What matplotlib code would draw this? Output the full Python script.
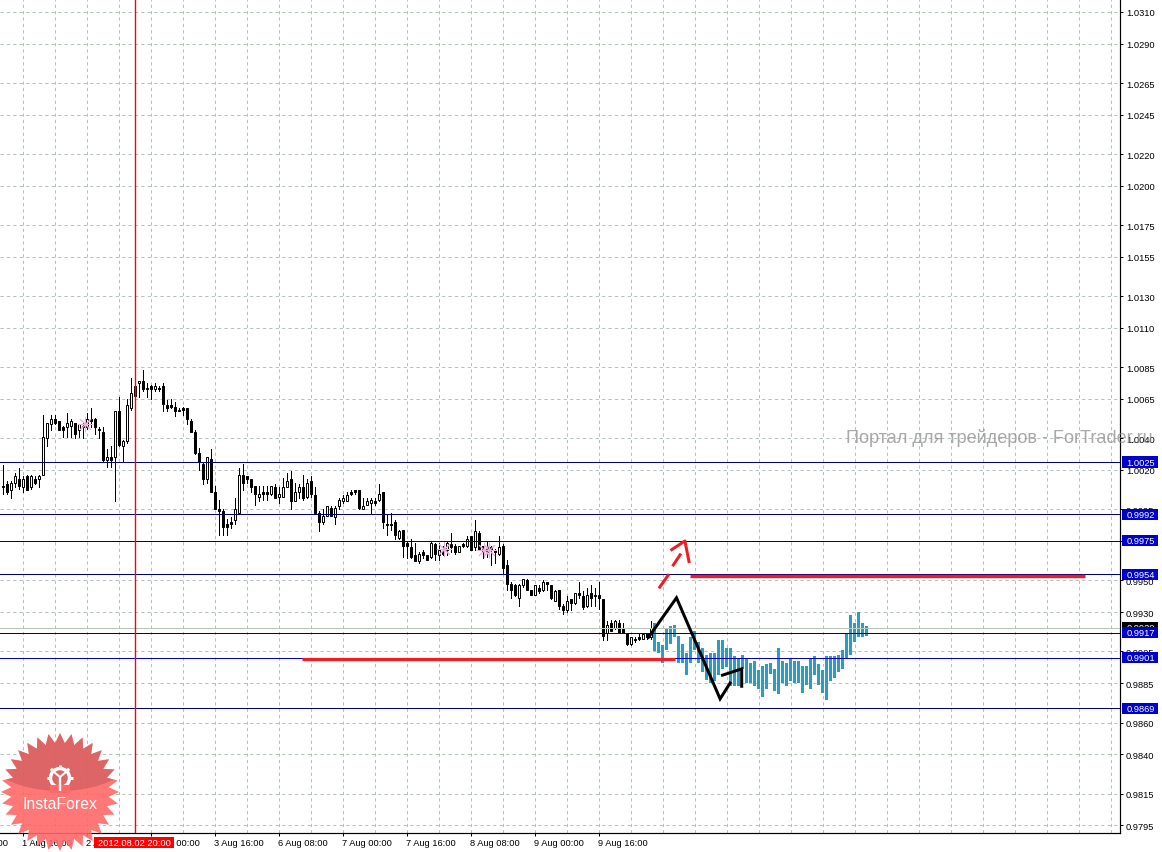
import numpy as np
import matplotlib
matplotlib.use('Agg')
import matplotlib.pyplot as plt
from matplotlib.patches import Polygon, Rectangle, Ellipse, Circle

# all prices in pips (1.0025 -> 10025), hourly bars
opens = [10010, 10011, 10007, 10012, 10014, 10009, 10016, 10009, 10014, 10014,
         10017, 10040, 10049, 10052, 10051, 10047, 10047, 10048, 10050, 10045,
         10048, 10047, 10052, 10052, 10046, 10044, 10026, 10028, 10028, 10057,
         10035, 10038, 10059, 10067, 10075, 10076, 10072, 10073, 10071, 10072,
         10073, 10061, 10061, 10060, 10058, 10059, 10059, 10051, 10044, 10031,
         10024, 10014, 10027, 10006, 9995, 9994, 9986, 9987, 9988, 9993,
         10017, 10016, 10014, 10010, 10003, 10006, 10006, 10005, 10009, 10003,
         10003, 10009, 10014, 10000, 10006, 10009, 10003, 10013, 10004, 9993,
         9987, 9991, 9996, 9990, 9997, 10000, 10000, 10006, 10007, 10007,
         9995, 9998, 9999, 10000, 10001, 10006, 9986, 9986, 9987, 9977,
         9982, 9974, 9971, 9966, 9962, 9968, 9966, 9965, 9973, 9966,
         9968, 9969, 9973, 9972, 9968, 9973, 9972, 9978, 9971, 9980,
         9972, 9971, 9971, 9969, 9967, 9972, 9960, 9948, 9947, 9939,
         9947, 9950, 9944, 9941, 9945, 9944, 9949, 9947, 9937, 9944,
         9934, 9931, 9938, 9936, 9942, 9940, 9934, 9942, 9941, 9941,
         9938, 9917, 9923, 9920, 9923, 9919, 9917, 9910, 9913, 9914,
         9913, 9917, 9914]
closes = [10009, 10006, 10012, 10016, 10010, 10014, 10007, 10016, 10012, 10016,
          10041, 10050, 10052, 10050, 10045, 10045, 10050, 10051, 10043, 10049,
          10047, 10052, 10051, 10047, 10045, 10026, 10028, 10026, 10057, 10036,
          10038, 10061, 10069, 10073, 10076, 10071, 10071, 10071, 10073, 10071,
          10062, 10059, 10060, 10057, 10057, 10058, 10052, 10044, 10031, 10025,
          10014, 10028, 10006, 9995, 9994, 9984, 9984, 9986, 9995, 10017,
          10012, 10014, 10009, 10005, 10005, 10005, 10005, 10010, 10002, 10005,
          10009, 10013, 10000, 10006, 10009, 10002, 10012, 10005, 9993, 9987,
          9991, 9997, 9991, 9996, 10001, 10002, 10004, 10005, 10006, 9996,
          9997, 10000, 10001, 9999, 10005, 9987, 9985, 9985, 9979, 9981,
          9972, 9972, 9965, 9962, 9967, 9966, 9963, 9974, 9967, 9969,
          9967, 9974, 9971, 9968, 9972, 9972, 9976, 9969, 9981, 9970,
          9968, 9968, 9969, 9968, 9971, 9958, 9948, 9944, 9941, 9947,
          9951, 9944, 9941, 9947, 9943, 9949, 9948, 9939, 9943, 9934,
          9931, 9937, 9936, 9942, 9941, 9933, 9941, 9939, 9940, 9939,
          9915, 9922, 9918, 9924, 9917, 9917, 9910, 9914, 9912, 9913,
          9916, 9914, 9920]
highs = [10023, 10013, 10013, 10018, 10021, 10016, 10017, 10017, 10016, 10017,
         10055, 10050, 10055, 10055, 10051, 10048, 10056, 10052, 10050, 10049,
         10050, 10056, 10059, 10053, 10047, 10047, 10033, 10035, 10057, 10066,
         10039, 10065, 10078, 10077, 10076, 10083, 10075, 10074, 10075, 10073,
         10075, 10064, 10065, 10063, 10059, 10060, 10059, 10052, 10045, 10034,
         10025, 10028, 10033, 10010, 10001, 9995, 9989, 9990, 10002, 10021,
         10024, 10016, 10014, 10010, 10010, 10010, 10010, 10010, 10011, 10009,
         10015, 10018, 10019, 10012, 10011, 10017, 10014, 10016, 10009, 9994,
         9995, 9997, 9997, 9997, 10002, 10004, 10006, 10007, 10007, 10007,
         10002, 10002, 10002, 10002, 10011, 10006, 9992, 9993, 9988, 9982,
         9982, 9975, 9976, 9974, 9968, 9969, 9966, 9975, 9974, 9974,
         9972, 9975, 9980, 9973, 9972, 9974, 9978, 9978, 9988, 9981,
         9972, 9975, 9972, 9970, 9978, 9973, 9963, 9949, 9948, 9948,
         9951, 9951, 9944, 9947, 9947, 9950, 9949, 9947, 9944, 9944,
         9935, 9940, 9938, 9942, 9949, 9943, 9945, 9947, 9945, 9949,
         9938, 9924, 9925, 9925, 9925, 9923, 9917, 9914, 9914, 9916,
         9917, 9917, 9924]
lows = [10005, 10005, 10002, 10009, 10008, 10006, 10007, 10008, 10011, 10009,
        10017, 10035, 10045, 10049, 10045, 10041, 10041, 10041, 10040, 10041,
        10040, 10046, 10047, 10043, 10040, 10025, 10022, 10022, 10000, 10035,
        10025, 10037, 10058, 10064, 10066, 10070, 10066, 10065, 10070, 10070,
        10057, 10057, 10059, 10054, 10057, 10055, 10049, 10044, 10030, 10020,
        10011, 10012, 10006, 9995, 9979, 9979, 9979, 9983, 9986, 9993,
        10007, 10012, 10006, 9998, 10000, 10001, 10001, 10004, 10002, 9999,
        10003, 10009, 9995, 10000, 10002, 10001, 10002, 10003, 9993, 9981,
        9986, 9991, 9991, 9986, 9995, 9999, 10000, 10004, 10005, 9995,
        9995, 9998, 9993, 9998, 10000, 9983, 9979, 9982, 9976, 9976,
        9965, 9964, 9964, 9962, 9961, 9964, 9963, 9964, 9963, 9963,
        9966, 9966, 9968, 9967, 9968, 9971, 9971, 9969, 9969, 9970,
        9964, 9965, 9960, 9961, 9966, 9955, 9944, 9939, 9940, 9934,
        9946, 9944, 9941, 9941, 9942, 9943, 9944, 9938, 9937, 9932,
        9929, 9930, 9931, 9935, 9939, 9932, 9933, 9934, 9934, 9932,
        9912, 9912, 9918, 9919, 9917, 9917, 9909, 9909, 9911, 9912,
        9913, 9913, 9913]

# forecast histogram columns, first one sits at bar 163
hist_start = 163
hist_high = [9923, 9911, 9909, 9920, 9921, 9922, 9915, 9910, 9904, 9914,
             9918, 9911, 9907, 9903, 9904, 9904, 9912, 9912, 9907, 9907,
             9902, 9900, 9903, 9900, 9898, 9899, 9893, 9896, 9897, 9898,
             9894, 9907, 9899, 9898, 9900, 9899, 9899, 9896, 9896, 9901,
             9902, 9897, 9893, 9902, 9902, 9902, 9903, 9906, 9917, 9928,
             9923, 9930, 9923, 9921]
hist_low = [9905, 9904, 9898, 9906, 9910, 9914, 9898, 9898, 9890, 9898,
            9906, 9898, 9892, 9887, 9885, 9886, 9890, 9894, 9895, 9883,
            9883, 9883, 9894, 9885, 9885, 9883, 9881, 9876, 9881, 9891,
            9880, 9878, 9885, 9883, 9886, 9885, 9885, 9879, 9884, 9881,
            9890, 9884, 9879, 9874, 9886, 9888, 9892, 9894, 9900, 9903,
            9911, 9914, 9914, 9915]

level_prices = [10025, 9992, 9975, 9954, 9917, 9901, 9869]
level_colors = ['#000080', '#000080', '#000080', '#000080', '#000080', '#0000cc', '#000080']
bid_price = 9920

y_ticks = [10310, 10290, 10265, 10245, 10220, 10200, 10175, 10155, 10130, 10110,
           10085, 10065, 10040, 10020, 9995, 9975, 9950, 9930, 9905, 9885,
           9860, 9840, 9815, 9795]
x_tick_bars = [-11, 5, 21, 37, 53, 69, 85, 101, 117, 133, 149]
x_tick_labels = ['1 Aug 00:00', '1 Aug 16:00', '2 Aug 08:00', '3 Aug 00:00', '3 Aug 16:00',
                 '6 Aug 08:00', '7 Aug 00:00', '7 Aug 16:00', '8 Aug 08:00', '9 Aug 00:00',
                 '9 Aug 16:00']
cursor_bar = 33
cursor_label = '2012.08.02 20:00'

zigzag_x = [161.5, 168.5, 179.4, 181.9]
zigzag_y = [9914, 9939, 9875, 9885]
hook_x = [180.0, 184.8, 184.8]
hook_y = [9890, 9894, 9883]
arrow_x = [[164.1, 166.6], [167.5, 169.6], [167.0, 170.6, 171.7]]
arrow_y = [[9945, 9954], [9959, 9967], [9969, 9975, 9961]]
support_x, support_y = [74.9, 168.1], 9900
resist_x, resist_y = [171.9, 270.6], 9953
star_x = [20.6, 110.4, 120.4, 121.6]
star_y = [10049, 9970, 9969, 9969]

W, H = 1162, 853
px = 0.72  # one pixel in points at dpi 100
fs = 6.7
red = '#f01c24'

plt.rcParams['font.family'] = ['Liberation Sans', 'DejaVu Sans']
fig = plt.figure(figsize=(W / 100, H / 100), dpi=100, facecolor='white')
ax = fig.add_axes([0, 1 - 834 / H, 1120 / W, 834 / H])
ax.set_xlim(-0.625, 279.375)
ax.set_ylim(10310 - 821 / 1.579, 10310 + 13 / 1.579)

for s in ['left', 'top']:
    ax.spines[s].set_visible(False)
for s in ['right', 'bottom']:
    ax.spines[s].set_linewidth(1.2 * px)

grid_color = '#b4c2b4'
dash = (0, (3.2, 3.2))
for b in range(5, 280, 8):
    ax.axvline(b, color=grid_color, lw=px, ls=dash, zorder=1)
for t in y_ticks:
    ax.axhline(t, color=grid_color, lw=px, ls=dash, zorder=1)

ax.yaxis.tick_right()
ax.set_yticks(y_ticks)
ax.set_yticklabels([f'{t / 10000:.4f}' for t in y_ticks], fontsize=fs)
ax.tick_params(axis='y', length=2.2, width=px, pad=2.2)
ax.set_xticks([b for b in x_tick_bars if b >= 0])
ax.set_xticklabels([])
ax.tick_params(axis='x', length=2.2, width=px)
for b, lab in zip(x_tick_bars, x_tick_labels):
    ax.text(b - 0.2, -0.0065, lab, transform=ax.get_xaxis_transform(), fontsize=fs,
            ha='left', va='top', clip_on=False)

# histogram under everything else
hx = np.arange(hist_start, hist_start + len(hist_high))
ax.bar(hx, np.array(hist_high) - np.array(hist_low), bottom=hist_low, width=0.8,
       color='#2b9dc2', lw=0, zorder=2)

# candles
cx = np.arange(len(opens))
ax.vlines(cx, lows, highs, color='black', lw=px, zorder=3, antialiased=False)
o = np.array(opens)
c = np.array(closes)
up = c >= o
ax.bar(cx[up], (c - o)[up], bottom=o[up], width=0.5, facecolor='white', edgecolor='black',
       lw=px, zorder=4)
ax.bar(cx[~up], (o - c)[~up], bottom=c[~up], width=0.5, facecolor='black', edgecolor='black',
       lw=px, zorder=4)
ax.plot(star_x, star_y, ls='none', marker=(8, 2, 0), ms=11, mew=0.7, color='#ecaed6', zorder=5)

for p, col in zip(level_prices, level_colors):
    ax.axhline(p, color=col, lw=px, zorder=6)
ax.axhline(bid_price, color='#b7c7b7', lw=px, zorder=5)
ax.axvline(cursor_bar, color='#ff0000', lw=1.0, zorder=6)

ax.plot(support_x, [support_y] * 2, color=red, lw=3.2 * px, solid_capstyle='butt', zorder=7)
ax.plot(resist_x, [resist_y] * 2, color=red, lw=3.4 * px, solid_capstyle='butt', zorder=7)
for xs, ys in zip(arrow_x, arrow_y):
    ax.plot(xs, ys, color=red, lw=3 * px, solid_capstyle='butt', zorder=7)
ax.plot(zigzag_x, zigzag_y, color='black', lw=3 * px, solid_joinstyle='miter', zorder=8)
ax.plot(hook_x, hook_y, color='black', lw=3 * px, solid_joinstyle='miter', zorder=8)

# price flags on the right scale
trans = ax.get_yaxis_transform()
flag_x, flag_w = 1122 / 1120, 36 / 1120
ax.add_patch(Rectangle((flag_x, bid_price - 3.5), flag_w, 7, transform=trans, fc='black',
                       ec='none', clip_on=False, zorder=9))
ax.text(1126.5 / 1120, bid_price, f'{bid_price / 10000:.4f}', transform=trans, color='white',
        fontsize=fs, va='center', ha='left', zorder=9)
for p in level_prices:
    ax.add_patch(Rectangle((flag_x, p - 3.5), flag_w, 7, transform=trans, fc='#0000cc',
                           ec='none', clip_on=False, zorder=10))
    ax.text(1126.5 / 1120, p, f'{p / 10000:.4f}', transform=trans, color='white',
            fontsize=fs, va='center', ha='left', zorder=11)

# overlay in pixel coordinates for the cursor flag, watermark and logo
ov = fig.add_axes([0, 0, 1, 1], zorder=20)
ov.set_xlim(0, W)
ov.set_ylim(H, 0)
ov.axis('off')
ov.patch.set_alpha(0)

ov.add_patch(Rectangle((94, 838), 80, 11, fc='#ff0000', ec='none', zorder=2))
ov.text(134, 843.5, cursor_label, color='white', fontsize=fs, ha='center', va='center', zorder=3)
ov.text(846, 438, 'Портал для трейдеров - ForTrader.ru', color='#8c8c8c', alpha=0.75,
        fontsize=13.1, va='center', ha='left', zorder=3)

# InstaForex badge
n = 32
ang = np.arange(2 * n) * np.pi / n + np.pi / 2
rad = np.where(np.arange(2 * n) % 2 == 0, 59, 49)
star = Polygon(np.c_[60 + rad * np.cos(ang), 793 + rad * np.sin(ang)], closed=True,
               fc='#ff6868', ec='none', alpha=0.9, zorder=4)
ov.add_patch(star)
dark = Ellipse((60, 748), 160, 88, fc='#c85a5a', ec='none', alpha=0.6, zorder=5)
ov.add_patch(dark)
dark.set_clip_path(star)
white = '#ffffff'
ov.add_patch(Circle((60, 779), 9.5, fc='none', ec=white, lw=3.4 * px, zorder=6))
for a in np.arange(0, 360, 45):
    ca, sa = np.cos(np.radians(a)), np.sin(np.radians(a))
    ov.plot([60 + 9.5 * ca, 60 + 13 * ca], [779 + 9.5 * sa, 779 + 13 * sa], color=white,
            lw=3 * px, solid_capstyle='butt', zorder=6)
ov.add_patch(Rectangle((50, 786), 20, 8, fc='#ff6868', ec='none', zorder=6))
ov.plot([60, 60], [778, 792], color=white, lw=2.4 * px, solid_capstyle='butt', zorder=7)
ov.plot([54, 60, 66], [773, 778, 773], color=white, lw=2 * px, zorder=7)
ov.text(59.5, 805, 'InstaForex', color=white, fontsize=11.4, ha='center', va='center', zorder=7)

fig.savefig('out.png', dpi=100, facecolor='white')
